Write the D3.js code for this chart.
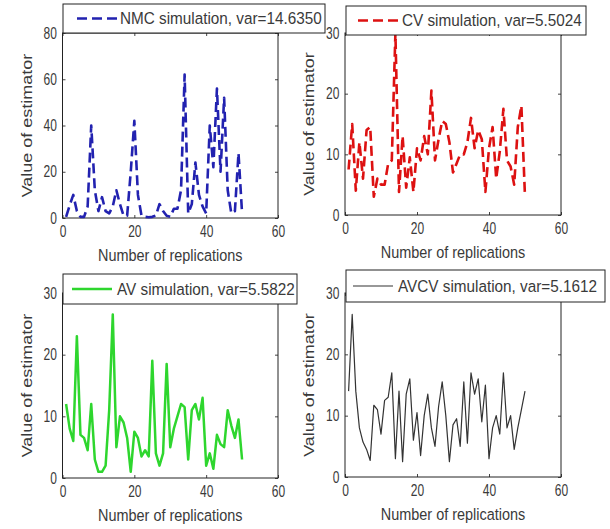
<!DOCTYPE html>
<html><head><meta charset="utf-8">
<script src="https://cdn.jsdelivr.net/npm/d3@7"></script>
<style>
html,body{margin:0;padding:0;background:#fff;}
svg{display:block;}
text{font-family:"Liberation Sans", Arial, Helvetica, sans-serif; fill:#3a3a3a;}
</style></head><body>
<svg id="chart" width="610" height="529"></svg>
<script>
// ---- data ----
const replications = [1,2,3,4,5,6,7,8,9,10,11,12,13,14,15,16,17,18,19,20,21,22,23,24,25,26,27,28,29,30,31,32,33,34,35,36,37,38,39,40,41,42,43,44,45,46,47,48,49,50];
const nmcValues = [0.5,5.5,10,3,0.5,0.5,5,40,12,3, 9,3,2,5,12,6,1,1,20,42, 10,1,0.5,0.3,0.5,1,6,3,1,0.5, 4,4,12,62,2,6,24,10,5,2, 40,22,56,20,52,12,2,3,28,2];
const cvValues = [7.5,15,4,12,6,14,14.5,3,6,5, 5,8.5,9,30,3.8,13,4.5,9.5,3.8,11, 9,13,10,20.5,9,12.5,15.5,15,12,7, 8.5,10,10,12,16,11,14,12.5,3.8,11, 14.5,6,10.5,17.5,9,8,5,14.5,18,3];
const avValues = [12,8,6,23,7,6.5,4.5,12,3,1, 1,2,11,26.5,5,10,9,6.5,1,7.5, 6.5,3.5,4.5,3.5,19,4,2,4,18.5,5, 8,10,12,11.5,3,11,12,9.5,13,2, 4,1.5,7,5.5,5,11,8.5,6.5,9.5,3];
const avcvValues = [14,26.5,14,8,5.7,4.5,2.7,11.7,11,7, 12.5,13,17,3,14,2.5,13.5,16,6,10.5, 3.5,10,13.5,8,5,11.5,15.5,10,2.5,8.5, 9.5,5,15.5,5.5,17,13.5,16,9,15,3, 8,10,7,17,8,10,4.5,8,11,14];
const xTicks = [0,20,40,60];
const nmcTicks = [0,20,40,60,80];
const smallTicks = [0,10,20,30];
const legendLabels = ["NMC simulation, var=14.6350","CV simulation, var=5.5024","AV simulation, var=5.5822","AVCV simulation, var=5.1612"];
const xLabel = "Number of replications";
const yLabel = "Value of estimator";

// ---- layout / style ----
const panels = [
  {values:nmcValues, yMax:80, yTicks:nmcTicks, label:legendLabels[0], color:"#2222b0", width:2.6, dash:"10,5",
   box:{l:62.5,r:278,t:33,b:218}, leg:{l:63,t:4,r:325,b:33,lx:77,tx:120}},
  {values:cvValues, yMax:30, yTicks:smallTicks, label:legendLabels[1], color:"#dd1111", width:2.6, dash:"10,5",
   box:{l:345,r:561,t:33,b:215}, leg:{l:346,t:6,r:586,b:35,lx:358,tx:402}},
  {values:avValues, yMax:30, yTicks:smallTicks, label:legendLabels[2], color:"#2ed62e", width:2.5, dash:null,
   box:{l:62.5,r:278,t:293,b:478}, leg:{l:63,t:274,r:297,b:304,lx:72,tx:117}},
  {values:avcvValues, yMax:30, yTicks:smallTicks, label:legendLabels[3], color:"#333333", width:1.2, dash:null,
   box:{l:345,r:561,t:293,b:477}, leg:{l:346,t:270,r:605,b:302,lx:353,tx:398}}
];

const svg = d3.select("#chart");
const SX = 0.85, TSX = 0.75;

panels.forEach(p => {
  const B = p.box;
  const g = svg.append("g");
  const x = d3.scaleLinear().domain([0,60]).range([B.l,B.r]);
  const y = d3.scaleLinear().domain([0,p.yMax]).range([B.b,B.t]);

  // axes
  const bottom = g.append("g").attr("transform",`translate(0,${B.b})`)
    .call(d3.axisBottom(x).tickValues(xTicks).tickSizeInner(-3).tickSizeOuter(0).tickPadding(8));
  bottom.selectAll("text").attr("font-size",16).attr("transform",`scale(${TSX},1)`);
  const left = g.append("g").attr("transform",`translate(${B.l},0)`)
    .call(d3.axisLeft(y).tickValues(p.yTicks).tickSizeInner(-3).tickSizeOuter(0).tickPadding(7.5));
  left.selectAll("text").attr("font-size",16).attr("transform",`scale(${TSX},1)`);
  const top = g.append("g").attr("transform",`translate(0,${B.t})`)
    .call(d3.axisTop(x).tickValues(xTicks).tickSizeInner(-3).tickSizeOuter(0).tickFormat(""));
  const right = g.append("g").attr("transform",`translate(${B.r},0)`)
    .call(d3.axisRight(y).tickValues(p.yTicks).tickSizeInner(-3).tickSizeOuter(0).tickFormat(""));
  [bottom,left,top,right].forEach(a => {
    a.select(".domain").remove();
    a.selectAll(".tick line").attr("stroke","#444");
    a.selectAll("text").attr("fill","#3a3a3a").attr("font-family",null);
  });
  g.append("rect").attr("x",B.l).attr("y",B.t).attr("width",B.r-B.l).attr("height",B.b-B.t)
    .attr("fill","none").attr("stroke","#222").attr("stroke-width",1);

  // series
  const line = d3.line().x((d,i)=>x(replications[i])).y(d=>y(d));
  const path = g.append("path").datum(p.values).attr("d",line)
    .attr("fill","none").attr("stroke",p.color).attr("stroke-width",p.width)
    .attr("stroke-linejoin","round");
  if (p.dash) path.attr("stroke-dasharray",p.dash);

  // axis labels
  g.append("text").attr("text-anchor","middle").attr("font-size",17).attr("dy","0.35em")
    .attr("transform",`translate(${(B.l+B.r)/2},${B.b+37}) scale(${SX},1)`).text(xLabel);
  g.append("text").attr("text-anchor","middle").attr("font-size",18).attr("dy","0.35em")
    .attr("transform",`translate(${B.l-36},${(B.t+B.b)/2}) rotate(-90) scale(1,${SX})`).text(yLabel);

  // legend
  const L = p.leg, cy = (L.t+L.b)/2;
  g.append("rect").attr("x",L.l).attr("y",L.t).attr("width",L.r-L.l).attr("height",L.b-L.t)
    .attr("fill","#fff").attr("stroke","#222").attr("stroke-width",1);
  const ls = g.append("line").attr("x1",L.lx).attr("x2",L.lx+40).attr("y1",cy).attr("y2",cy)
    .attr("stroke",p.color).attr("stroke-width",p.width);
  if (p.dash) ls.attr("stroke-dasharray",p.dash);
  g.append("text").attr("font-size",17).attr("dy","0.35em")
    .attr("transform",`translate(${L.tx},${cy}) scale(0.9,1)`).text(p.label);
});
</script>
</body></html>
